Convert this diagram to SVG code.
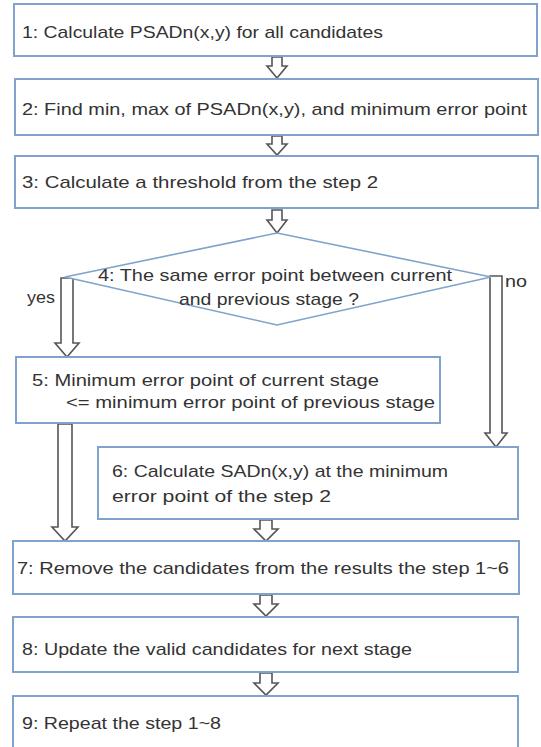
<svg xmlns="http://www.w3.org/2000/svg" width="541" height="747" viewBox="0 0 541 747">
<style>
.box{fill:#fff;stroke:#7fa3cc;stroke-width:2}
.dia{fill:#fff;stroke:#7fa3cc;stroke-width:1.6}
.arr{fill:#fff;stroke:#555;stroke-width:1.6;stroke-linejoin:miter}
text{font-family:"Liberation Sans",Arial,sans-serif;font-size:17px;fill:#333}
</style>
<rect width="541" height="747" fill="#fff"/>
<g id="connectors">
<path class="arr" d="M272,57H282V66H287L277,78L267,66H272Z"/>
<path class="arr" d="M272,136H282V144H287L277,155L267,144H272Z"/>
<path class="arr" d="M272,210H282V220H287L277,233L267,220H272Z"/>
<path class="arr" d="M61,278H73V343H79L67,357L55,343H61Z"/>
<path class="arr" d="M490,276H502V433H507L496,447L485,433H490Z"/>
<path class="arr" d="M58,424H72V527H78L65,541L52,527H58Z"/>
<path class="arr" d="M260,520H272V529H278L266,541L254,529H260Z"/>
<path class="arr" d="M260,595H272V604H278L266,616L254,604H260Z"/>
<path class="arr" d="M260,673H272V683H278L266,695L254,683H260Z"/>
<text x="27" y="303" textLength="28" lengthAdjust="spacingAndGlyphs">yes</text>
<text x="505" y="287" textLength="22" lengthAdjust="spacingAndGlyphs">no</text>
</g>
<g id="n1"><rect class="box" x="14" y="4" width="523" height="52"/>
<text x="22" y="38" textLength="361" lengthAdjust="spacingAndGlyphs">1: Calculate PSADn(x,y) for all candidates</text></g>
<g id="n2"><rect class="box" x="15" y="79" width="523" height="56"/>
<text x="22" y="115" textLength="505" lengthAdjust="spacingAndGlyphs">2: Find  min, max of PSADn(x,y), and minimum error point</text></g>
<g id="n3"><rect class="box" x="15" y="156" width="523" height="52"/>
<text x="22" y="188" textLength="356" lengthAdjust="spacingAndGlyphs">3: Calculate a threshold  from the step 2</text></g>
<g id="n4"><polygon class="dia" points="277,233 491,277 277,325 65,277"/>
<text x="98" y="281" textLength="354" lengthAdjust="spacingAndGlyphs">4: The same error point between  current</text>
<text x="179" y="305" textLength="180" lengthAdjust="spacingAndGlyphs">and previous  stage ?</text></g>
<g id="n5"><rect class="box" x="16" y="357" width="424" height="66"/>
<text x="32" y="386" textLength="347" lengthAdjust="spacingAndGlyphs">5: Minimum error point  of current stage</text>
<text x="66" y="408" textLength="369" lengthAdjust="spacingAndGlyphs">&lt;= minimum error point of previous  stage</text></g>
<g id="n6"><rect class="box" x="98" y="447" width="420" height="72"/>
<text x="112" y="477" textLength="336" lengthAdjust="spacingAndGlyphs">6: Calculate SADn(x,y) at the minimum</text>
<text x="112" y="502" textLength="219" lengthAdjust="spacingAndGlyphs">error point   of the step 2</text></g>
<g id="n7"><rect class="box" x="13" y="541" width="506" height="53"/>
<text x="17" y="574" textLength="492" lengthAdjust="spacingAndGlyphs">7: Remove the candidates from the results the step 1~6</text></g>
<g id="n8"><rect class="box" x="13" y="617" width="505" height="55"/>
<text x="22" y="655" textLength="390" lengthAdjust="spacingAndGlyphs">8: Update the valid candidates for next stage</text></g>
<g id="n9"><rect class="box" x="13" y="696" width="505" height="56"/>
<text x="22" y="729" textLength="199" lengthAdjust="spacingAndGlyphs">9: Repeat  the step 1~8</text></g>
</svg>
